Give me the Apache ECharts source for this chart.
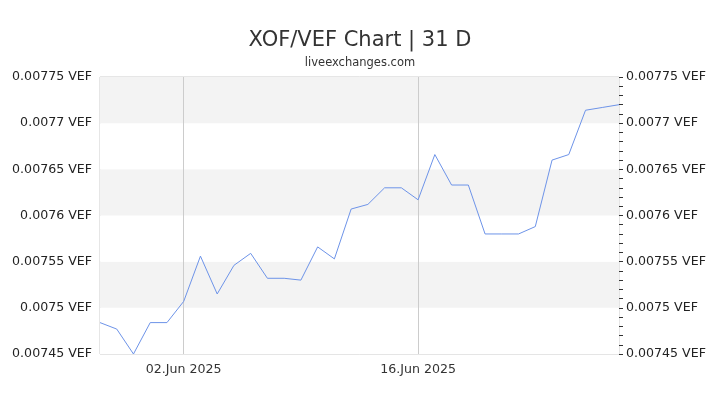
<!doctype html>
<html>
 <head>
  <meta charset="UTF-8">
  <script src="https://cdn.jsdelivr.net/npm/echarts@6/dist/echarts.min.js"></script>
  <title>XOF/VEF Chart | 31 D</title>
  <style>
   html, body { margin: 0; padding: 0; background: #fff; }
  </style>
 </head>
 <body>
  <div id="chart" style="height: 405px; width: 720px; margin: 0"></div>
 <script type="text/javascript">
    // 28 May 2025 .. 28 Jun 2025
    var days = ['28.May 2025', '29.May 2025', '30.May 2025', '31.May 2025',
        '01.Jun 2025', '02.Jun 2025', '03.Jun 2025', '04.Jun 2025', '05.Jun 2025',
        '06.Jun 2025', '07.Jun 2025', '08.Jun 2025', '09.Jun 2025', '10.Jun 2025',
        '11.Jun 2025', '12.Jun 2025', '13.Jun 2025', '14.Jun 2025', '15.Jun 2025',
        '16.Jun 2025', '17.Jun 2025', '18.Jun 2025', '19.Jun 2025', '20.Jun 2025',
        '21.Jun 2025', '22.Jun 2025', '23.Jun 2025', '24.Jun 2025', '25.Jun 2025',
        '26.Jun 2025', '27.Jun 2025', '28.Jun 2025'];
    var rates = [0.007484, 0.007477, 0.007450, 0.007484,
        0.007484, 0.007507, 0.007556, 0.007515, 0.007546,
        0.007559, 0.007532, 0.007532, 0.007530, 0.007566,
        0.007553, 0.007607, 0.007612, 0.007630, 0.007630,
        0.007617, 0.007666, 0.007633, 0.007633, 0.007580,
        0.007580, 0.007580, 0.007588, 0.007660, 0.007666,
        0.007714, 0.007717, 0.007720];
    var markedDays = ['02.Jun 2025', '16.Jun 2025'];
    var yMin = 0.00745, yMax = 0.00775, yStep = 0.00005;

    var isMarked = function (idx, val) {
        return markedDays.indexOf(days[idx]) >= 0;
    };
    var fmt = function (v) {
        return (+v.toFixed(5)) + ' VEF';
    };
    var font = 'DejaVu Sans';

    var myChart = echarts.init(document.getElementById('chart'));
    myChart.setOption({
        animation: false,
        title: {
            text: 'XOF/VEF Chart | 31 D',
            subtext: 'liveexchanges.com',
            left: 'center',
            top: 25,
            itemGap: 6,
            textStyle: { fontFamily: font, fontSize: 21, fontWeight: 'normal', color: '#333' },
            subtextStyle: { fontFamily: font, fontSize: 11.5, color: '#333' }
        },
        grid: {
            left: 100, right: 101, top: 77, bottom: 51,
            show: true, borderColor: '#ccc', borderWidth: 1
        },
        xAxis: {
            type: 'category',
            data: days,
            boundaryGap: false,
            axisLine: { show: false },
            axisTick: { show: false },
            axisLabel: {
                interval: isMarked,
                fontFamily: font, fontSize: 12.6, color: '#333', margin: 9
            },
            splitLine: {
                show: true,
                interval: isMarked,
                lineStyle: { color: '#ccc', width: 1 }
            }
        },
        yAxis: [{
            type: 'value',
            position: 'left',
            min: yMin, max: yMax, interval: yStep,
            axisLine: { show: false },
            axisTick: { show: false },
            axisLabel: { formatter: fmt, fontFamily: font, fontSize: 12.6, color: '#222', margin: 8 },
            splitLine: { show: false },
            splitArea: { show: true, areaStyle: { color: ['#ffffff', '#f3f3f3'] } }
        }, {
            type: 'value',
            position: 'right',
            min: yMin, max: yMax, interval: yStep,
            axisLine: { show: false },
            axisTick: { show: true, length: 4, lineStyle: { color: '#333' } },
            minorTick: { show: true, splitNumber: 5, length: 4, lineStyle: { color: '#333' } },
            axisLabel: { formatter: fmt, fontFamily: font, fontSize: 12.6, color: '#222', margin: 7 },
            splitLine: { show: false }
        }],
        series: [{
            name: 'XOF/VEF',
            type: 'line',
            data: rates,
            showSymbol: false,
            lineStyle: { color: '#6d93e8', width: 1 }
        }]
    });
 </script>
 </body>
</html>
